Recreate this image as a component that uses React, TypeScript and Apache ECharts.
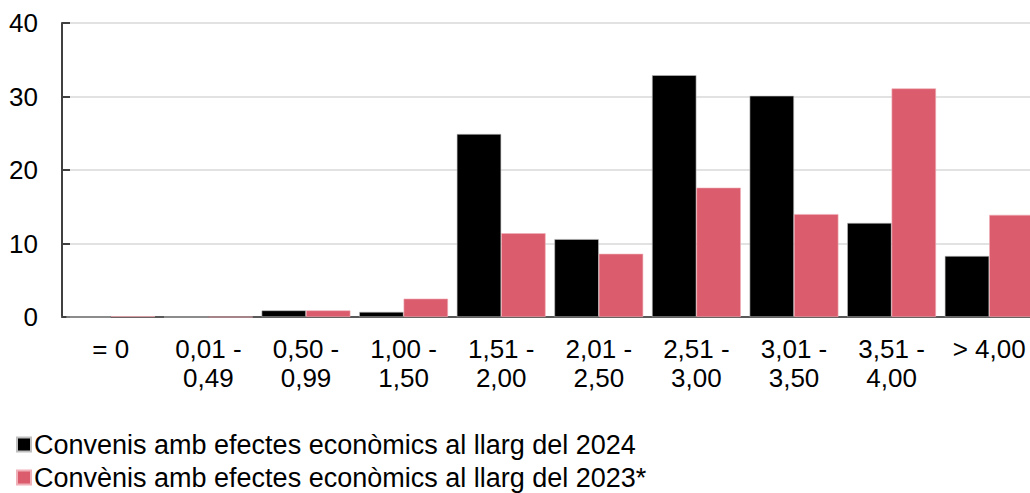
import React, { useEffect, useRef } from "react";
import * as echarts from "echarts";

const categories = [
  "= 0",
  "0,01 -\n0,49",
  "0,50 -\n0,99",
  "1,00 -\n1,50",
  "1,51 -\n2,00",
  "2,01 -\n2,50",
  "2,51 -\n3,00",
  "3,01 -\n3,50",
  "3,51 -\n4,00",
  "> 4,00",
];
const series2024 = [0, 0, 0.9, 0.7, 24.9, 10.6, 32.9, 30.1, 12.8, 8.3];
const series2023 = [0.1, 0, 0.9, 2.5, 11.4, 8.6, 17.6, 14.0, 31.1, 13.9];
const name2024 = "Convenis amb efectes econòmics al llarg del 2024";
const name2023 = "Convènis amb efectes econòmics al llarg del 2023*";
const yTicks = [0, 10, 20, 30, 40];

const FONT = "Liberation Sans, Arial, sans-serif";

const legendBase = {
  orient: "horizontal",
  left: 11,
  itemWidth: 14,
  itemHeight: 14,
  icon: "rect",
  textStyle: { fontSize: 27, color: "#000", fontFamily: FONT, padding: [0, 0, 0, -2] },
};

export default function App() {
  const ref = useRef<HTMLDivElement>(null);
  useEffect(() => {
    if (!ref.current) return;
    const chart = echarts.init(ref.current, undefined, { renderer: "svg" });
    chart.setOption({
      animation: false,
      textStyle: { fontFamily: FONT },
      grid: {
        left: 62,
        top: 23,
        bottom: 176,
        right: -8,
        containLabel: false,
        outerBoundsMode: "none",
      },
      legend: [
        { ...legendBase, top: 426, data: [name2024] },
        { ...legendBase, top: 459, data: [name2023] },
      ],
      xAxis: {
        type: "category",
        data: categories,
        axisLine: { lineStyle: { color: "#595959", width: 2 } },
        axisTick: { inside: true, length: 6, lineStyle: { color: "#595959", width: 1.5 } },
        axisLabel: {
          fontSize: 26,
          color: "#000",
          margin: 17,
          lineHeight: 29,
          fontFamily: FONT,
          interval: 0,
        },
      },
      yAxis: {
        type: "value",
        min: 0,
        max: 40,
        interval: 10,
        axisLine: { show: true, lineStyle: { color: "#404040", width: 2 } },
        axisTick: { show: true, inside: true, length: 8, lineStyle: { color: "#404040", width: 2 } },
        axisLabel: {
          fontSize: 26,
          color: "#000",
          margin: 24,
          fontFamily: FONT,
          customValues: yTicks,
        },
        splitLine: { lineStyle: { color: "#d9d9d9", width: 1.5 } },
      },
      series: [
        {
          name: name2024,
          type: "bar",
          data: series2024,
          barGap: "0%",
          barCategoryGap: "9%",
          itemStyle: { color: "#000000", borderColor: "#bfbfbf", borderWidth: 0.6 },
        },
        {
          name: name2023,
          type: "bar",
          data: series2023,
          barGap: "0%",
          barCategoryGap: "9%",
          itemStyle: { color: "#db5c6c", borderColor: "#f0b0b8", borderWidth: 0.6 },
        },
      ],
    });
    return () => chart.dispose();
  }, []);
  return (
    <div
      ref={ref}
      style={{ position: "fixed", left: 0, top: 0, width: 1030, height: 493, background: "#fff" }}
    />
  );
}
